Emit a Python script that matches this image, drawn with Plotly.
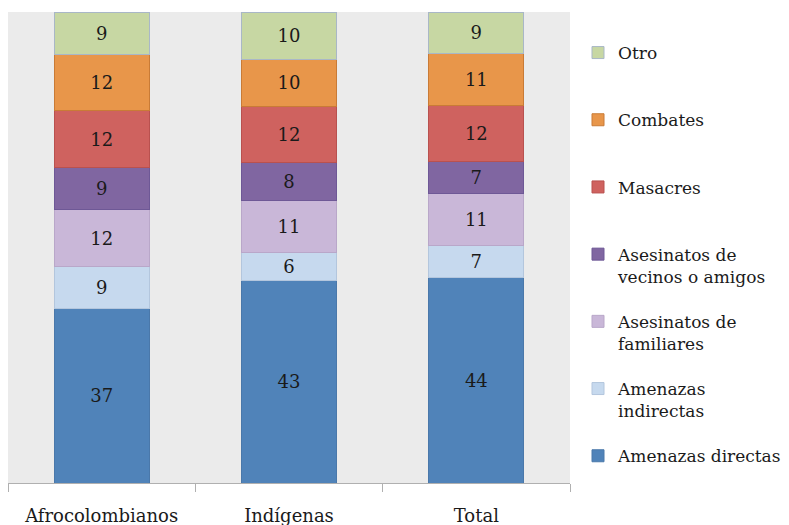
import plotly.graph_objects as go

categories = ["Afrocolombianos", "Indígenas", "Total"]
series_names = [
    "Amenazas directas<br> ",
    "Amenazas<br>indirectas",
    "Asesinatos de<br>familiares",
    "Asesinatos de<br>vecinos o amigos",
    "Masacres<br> ",
    "Combates<br> ",
    "Otro<br> ",
]
amenazas_directas = [37, 43, 44]
amenazas_indirectas = [9, 6, 7]
asesinatos_familiares = [12, 11, 11]
asesinatos_vecinos = [9, 8, 7]
masacres = [12, 12, 12]
combates = [12, 10, 11]
otro = [9, 10, 9]

series_values = [amenazas_directas, amenazas_indirectas, asesinatos_familiares,
                 asesinatos_vecinos, masacres, combates, otro]
colors = ["#5083b9", "#c6d9ee", "#c9b7d8", "#8066a1", "#cf625f", "#e8964a", "#c7d7a3"]
line_colors = ["#4a78aa", "#b3c6dd", "#b9a7c9", "#6e5896", "#b9514f", "#c97b36", "#a9b7c7"]

fig = go.Figure()
n = len(series_names)
for i, (name, vals) in enumerate(zip(series_names, series_values)):
    fig.add_trace(go.Bar(
        x=categories, y=vals, name=name, legendgroup=f"g{i}", legendrank=100 * (n - i),
        marker=dict(color=colors[i], line=dict(color=line_colors[i], width=1)),
        text=vals, texttemplate="%{text}", textposition="inside",
        insidetextanchor="middle", textangle=0,
        textfont=dict(family="DejaVu Serif", size=18, color="#1a1a1a"),
        hoverinfo="skip",
    ))

fig.update_layout(
    width=789, height=525,
    barmode="stack", barnorm="percent", bargap=0.493,
    paper_bgcolor="white", plot_bgcolor="#ebebeb",
    margin=dict(l=8, r=219, t=12, b=42, autoexpand=False),
    font=dict(family="DejaVu Serif", size=18, color="#1a1a1a"),
    showlegend=True,
    legend=dict(
        xref="container", yref="container",
        x=578 / 789, y=1 - 35 / 525, xanchor="left", yanchor="top",
        traceorder="grouped", tracegroupgap=20, valign="top", maxheight=520,
        bgcolor="rgba(0,0,0,0)", font=dict(family="DejaVu Serif", size=17, color="#1a1a1a"),
    ),
    xaxis=dict(
        showline=True, linecolor="#b0b0b0", linewidth=1,
        ticks="outside", tickson="boundaries", ticklen=8, tickcolor="#b0b0b0",
        ticklabelstandoff=16, showgrid=False, automargin=False,
        tickfont=dict(family="DejaVu Serif", size=18, color="#1a1a1a"),
    ),
    yaxis=dict(range=[0, 100], visible=False, showgrid=False, automargin=False),
    uniformtext=dict(minsize=17, mode="show"),
)

fig.write_html("out.html")
